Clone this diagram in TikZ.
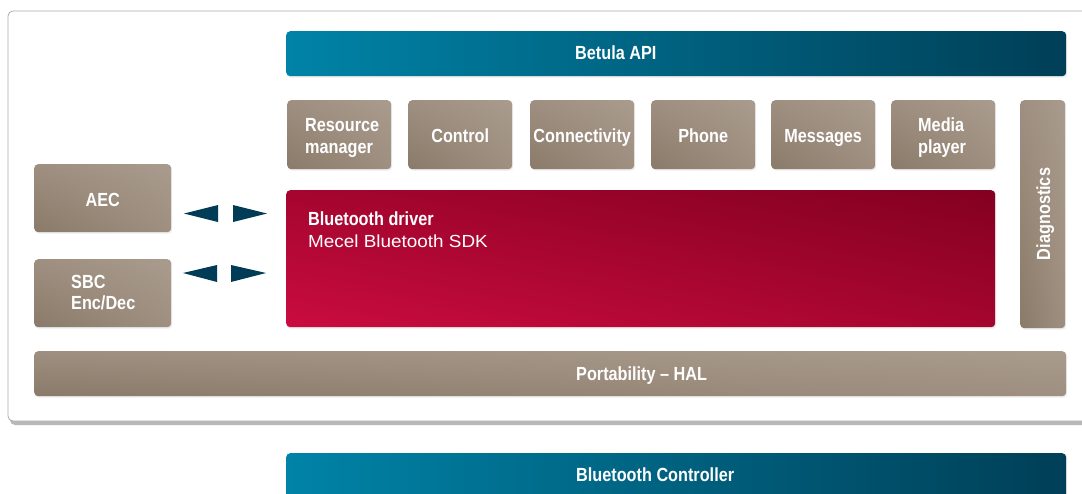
\documentclass[tikz,border=0pt]{standalone}
\usepackage{fontspec}
\setmainfont{Liberation Sans}
\newfontfamily\condb[FakeStretch=0.855,Ligatures=TeX]{Liberation Sans}
\newfontfamily\plainf[FakeStretch=1.08]{Liberation Sans}
\usetikzlibrary{shadows,shadings}
\definecolor{brDark}{HTML}{8A7A69}
\definecolor{brMid}{HTML}{9E8F80}
\definecolor{brLight}{HTML}{A99B8D}
\definecolor{tealL}{HTML}{0083A7}
\definecolor{tealR}{HTML}{003F57}
\definecolor{redDark}{HTML}{830021}
\definecolor{redMid}{HTML}{A5052F}
\definecolor{redLight}{HTML}{CA0C40}
\definecolor{arrowc}{HTML}{003C55}
\tikzset{
  lbl/.style={text=white, font=\condb\bfseries\fontsize{19}{22}\selectfont, inner sep=0pt},
  lblc/.style={lbl, anchor=base},
  lblw/.style={lbl, anchor=base west},
  boxbase/.style={rounded corners=4pt, inner sep=0pt, anchor=north west,
    drop shadow={shadow xshift=1pt, shadow yshift=-1.5pt, fill=black!7, opacity=1}},
  brownbox/.style={boxbase, lower left=brDark, upper right=brLight, upper left=brMid, lower right=brMid},
  tealbox/.style={boxbase, left color=tealL, right color=tealR},
  redbox/.style={boxbase, lower left=redLight, upper right=redDark, upper left=redMid, lower right=redMid},
  topbox/.style={brownbox, minimum width=104pt, minimum height=69pt},
  tri/.style={fill=arrowc}
}
\begin{document}
\begin{tikzpicture}[x=1pt,y=-1pt]
\useasboundingbox (0,0) rectangle (1082,493);
\begin{scope}
\clip (0,0) rectangle (1082,493);
% outer frame with shadow
\fill[black!28, rounded corners=5pt] (10,15) rectangle (1100,425);
\draw[fill=white, draw=black!33, line width=0.8pt, rounded corners=5pt] (8,11) rectangle (1100,421);

% Betula API
\node[tealbox, minimum width=780pt, minimum height=45pt] (api) at (286,31) {};
\node[lblw] (apil) at (575,59) {Betula API};

% top row boxes
\node[topbox] (res) at (287,100) {};
\node[lblw] (resa) at (305,131) {Resource};
\node[lblw] (resb) at (305,153) {manager};
\node[topbox] (ctrl) at (408,100) {};
\node[lblc] (ctrll) at (ctrl.north |- 0,142) {Control};
\node[topbox] (conn) at (530,100) {};
\node[lblc] (connl) at (conn.north |- 0,142) {Connectivity};
\node[topbox] (phone) at (651,100) {};
\node[lblc] (phonel) at (phone.north |- 0,142) {Phone};
\node[topbox] (msg) at (771,100) {};
\node[lblc] (msgl) at (msg.north |- 0,142) {Messages};
\node[topbox] (media) at (891,100) {};
\node[lblw] (mediaa) at (918,131) {Media};
\node[lblw] (mediab) at (918,153) {player};

% Diagnostics
\node[brownbox, minimum width=45pt, minimum height=228pt] (diag) at (1020,100) {};
\node[lbl, rotate=90, anchor=base] (diaglbl) at (1050,214) {Diagnostics};

% Bluetooth driver
\node[redbox, minimum width=709pt, minimum height=137pt] (btd) at (286,190) {};
\node[lblw] (btdl) at (308,225) {Bluetooth driver};
\node[text=white, inner sep=0pt, anchor=base west, font=\plainf\fontsize{17.5}{21}\selectfont] (sdk) at (308,247.3) {Mecel Bluetooth SDK};

% AEC / SBC
\node[brownbox, minimum width=137pt, minimum height=68pt] (aec) at (34,164) {};
\node[lblc] (aecl) at (aec.north |- 0,206) {AEC};
\node[brownbox, minimum width=137pt, minimum height=68pt] (sbc) at (34,259) {};
\node[lblw] (sbca) at (71,288.3) {SBC};
\node[lblw] (sbcb) at (71,309.5) {Enc/Dec};

% arrows
\fill[tri] (184,213.5) -- (218,205) -- (218,222) -- cycle;
\fill[tri] (267,213.5) -- (233,205) -- (233,222) -- cycle;
\fill[tri] (183,273) -- (217,265) -- (217,282) -- cycle;
\fill[tri] (266,273) -- (231,265) -- (231,282) -- cycle;

% HAL
\node[brownbox, minimum width=1032pt, minimum height=45pt] (hal) at (34,351) {};
\node[lblw] (hall) at (576,380) {Portability \textendash{} HAL};

% Bluetooth Controller
\node[tealbox, minimum width=780pt, minimum height=50pt] (btc) at (286,453) {};
\node[lblw] (btcl) at (576,481.7) {Bluetooth Controller};
\end{scope}
\end{tikzpicture}
\end{document}
